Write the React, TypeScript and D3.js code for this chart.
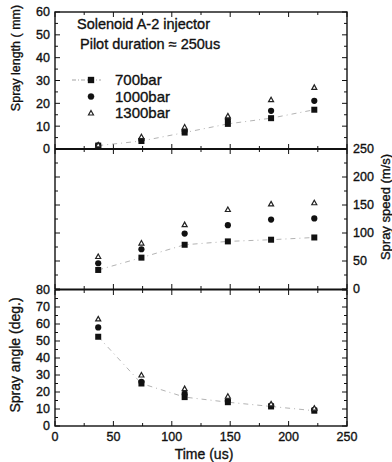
import React from "react";
import * as d3 from "d3";

const times = [37, 74, 111, 148, 185, 222];
const seriesNames = ["700bar", "1000bar", "1300bar"];

const length700 = [1.5, 3.5, 7.2, 11, 13.5, 17.2];
const length1000 = [1.5, 4.0, 8.0, 12.8, 16.7, 21.1];
const length1300 = [1.8, 5.4, 9.6, 14.5, 21.6, 27];

const speed700 = [34, 56, 79, 85, 88, 92];
const speed1000 = [46, 71, 99, 114, 124, 126];
const speed1300 = [58, 82, 115, 142, 152, 154];

const angle700 = [52.5, 25, 17, 14, 11.5, 9];
const angle1000 = [58, 26, 19, 15, 12, 9.5];
const angle1300 = [63, 30, 22, 17.5, 13, 10.5];

const xTicks = [0, 50, 100, 150, 200, 250];
const lengthTicks = [0, 10, 20, 30, 40, 50, 60];
const speedTicks = [0, 50, 100, 150, 200, 250];
const angleTicks = [0, 10, 20, 30, 40, 50, 60, 70, 80];

const FONT = "'Liberation Sans', Arial, sans-serif";

const x = d3.scaleLinear().domain([0, 250]).range([55, 347]);

type Panel = {
  y: d3.ScaleLinear<number, number>;
  series: number[][];
  minorStep: number;
  majorStep: number;
};

function Marker({ kind, cx, cy }: { kind: number; cx: number; cy: number }) {
  if (kind === 0) return <rect x={cx - 3} y={cy - 3} width={6} height={6} fill="#111" />;
  if (kind === 1) return <circle cx={cx} cy={cy} r={3.1} fill="#111" />;
  const s = 2.5;
  const p = `M${cx},${cy - s} L${cx + s},${cy + s * 0.8} L${cx - s},${cy + s * 0.8} Z`;
  return <path d={p} fill="#fff" stroke="#222" strokeWidth={1.2} />;
}

export default function App() {
  const yLen = d3.scaleLinear().domain([0, 60]).range([149, 12]);
  const ySpd = d3.scaleLinear().domain([0, 250]).range([289, 149]);
  const yAng = d3.scaleLinear().domain([0, 80]).range([426, 290]);

  const panels: Panel[] = [
    { y: yLen, series: [length700, length1000, length1300], minorStep: 5, majorStep: 10 },
    { y: ySpd, series: [speed700, speed1000, speed1300], minorStep: 25, majorStep: 50 },
    { y: yAng, series: [angle700, angle1000, angle1300], minorStep: 5, majorStep: 10 },
  ];

  const line = (ys: d3.ScaleLinear<number, number>) =>
    d3
      .line<[number, number]>()
      .x((d) => x(d[0]))
      .y((d) => ys(d[1]));

  const xMinor = d3.range(0, 251, 25);
  const textStyle = { stroke: "#111", strokeWidth: 0.35 };

  return (
    <svg width={392} height={462} style={{ position: "absolute", left: 0, top: 0, background: "#fff" }}>
      <rect x={0} y={0} width={392} height={462} fill="#fff" />
      {panels.map((p, pi) => {
        const [d0, d1] = p.y.domain();
        const top = p.y(d1);
        const bot = p.y(d0);
        const yMinor = d3.range(d0, d1 + 0.001, p.minorStep);
        return (
          <g key={pi}>
            {yMinor.map((v) => {
              const major = Math.abs(v % p.majorStep) < 1e-6;
              const len = major ? 5 : 3;
              return (
                <g key={v} stroke="#111" strokeWidth={1}>
                  <line x1={55} x2={55 + len} y1={p.y(v)} y2={p.y(v)} />
                  <line x1={347} x2={347 - len} y1={p.y(v)} y2={p.y(v)} />
                </g>
              );
            })}
            {xMinor.map((v) => {
              const major = v % 50 === 0;
              const len = major ? 5 : 3;
              return (
                <g key={v} stroke="#111" strokeWidth={1}>
                  <line x1={x(v)} x2={x(v)} y1={top} y2={top + len} />
                  <line x1={x(v)} x2={x(v)} y1={bot} y2={bot - len} />
                </g>
              );
            })}
            <path
              d={line(p.y)(times.map((t, i) => [t, p.series[0][i]]) as [number, number][]) || ""}
              fill="none"
              stroke="#aaa"
              strokeWidth={0.9}
              strokeDasharray="5,4,1,4"
            />
            {p.series.map((s, si) =>
              s.map((v, i) => <Marker key={`${si}-${i}`} kind={si} cx={x(times[i])} cy={p.y(v)} />)
            )}
          </g>
        );
      })}

      <rect x={55} y={12} width={292} height={414} fill="none" stroke="#111" strokeWidth={1.4} />
      <line x1={55} x2={347} y1={149} y2={149} stroke="#111" strokeWidth={2} />
      <line x1={55} x2={347} y1={289.5} y2={289.5} stroke="#111" strokeWidth={2} />

      <g fontFamily={FONT} fontSize={12.5} fill="#111" style={textStyle}>
        {lengthTicks.map((v) => (
          <text key={`l${v}`} x={50} y={yLen(v)} dy="0.35em" textAnchor="end">
            {v}
          </text>
        ))}
        {angleTicks.map((v) => (
          <text key={`a${v}`} x={50} y={yAng(v)} dy="0.35em" textAnchor="end">
            {v}
          </text>
        ))}
        {speedTicks.map((v) => (
          <text key={`s${v}`} x={353} y={ySpd(v)} dy="0.35em" textAnchor="start">
            {v}
          </text>
        ))}
        {xTicks.map((v) => (
          <text key={`x${v}`} x={x(v)} y={436.5} dy="0.35em" textAnchor="middle">
            {v}
          </text>
        ))}
      </g>

      <g fontFamily={FONT} fill="#111" style={textStyle}>
        <text transform="translate(20,58) rotate(-90)" textAnchor="middle" fontSize={12.5}>
          Spray length ( mm)
        </text>
        <text transform="translate(20,355) rotate(-90)" textAnchor="middle" fontSize={14}>
          Spray angle (deg.)
        </text>
        <text transform="translate(390,207) rotate(-90)" textAnchor="middle" fontSize={13}>
          Spray speed (m/s)
        </text>
        <text x={204} y={459} textAnchor="middle" fontSize={14}>
          Time (us)
        </text>
      </g>

      <g fontFamily={FONT} fontSize={14.5} fill="#111" style={textStyle}>
        <text x={77} y={29}>Solenoid A-2 injector</text>
        <text x={80} y={49}>Pilot duration ≈ 250us</text>
      </g>

      <g fontFamily={FONT} fontSize={15} fill="#111" style={textStyle}>
        {seriesNames.map((n, i) => {
          const ly = 80 + i * 16.5;
          return (
            <g key={n}>
              {i === 0 && (
                <line x1={72} x2={101} y1={ly} y2={ly} stroke="#999" strokeWidth={0.9} strokeDasharray="4,2,1,2" />
              )}
              <Marker kind={i} cx={91} cy={ly} />
              <text x={115} y={ly} dy="0.35em">
                {n}
              </text>
            </g>
          );
        })}
      </g>
    </svg>
  );
}
